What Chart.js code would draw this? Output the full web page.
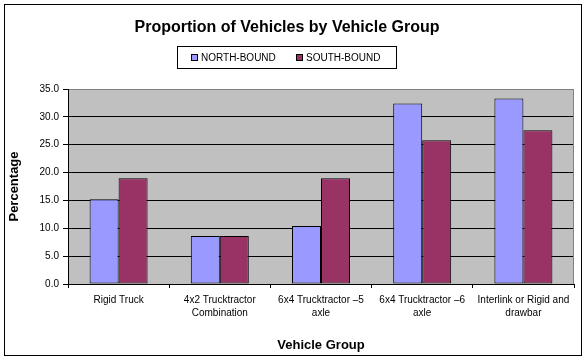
<!DOCTYPE html>
<html>
<head>
<meta charset="utf-8">
<script src="https://cdn.jsdelivr.net/npm/chart.js@4/dist/chart.umd.min.js"></script>
<style>
  html, body { margin: 0; padding: 0; background: #fff; }
  #wrap { width: 587px; height: 361px; }
</style>
</head>
<body>
<div id="wrap"><canvas id="c" width="587" height="361"></canvas></div>
<script>
const categories = [
  ["Rigid Truck"],
  ["4x2 Trucktractor", "Combination"],
  ["6x4 Trucktractor \u20135", "axle"],
  ["6x4 Trucktractor \u20136", "axle"],
  ["Interlink or Rigid and", "drawbar"]
];
const seriesNames = ["NORTH-BOUND", "SOUTH-BOUND"];
const northBound = [15.2, 8.6, 10.4, 32.4, 33.3];
const southBound = [19.0, 8.6, 19.0, 25.8, 27.6];
const yTicks = [0, 5, 10, 15, 20, 25, 30, 35];

const FONT = "'Liberation Sans', Arial, sans-serif";
Chart.defaults.font.family = FONT;
Chart.defaults.color = '#000';

const framePlugin = {
  id: 'frame',
  beforeDraw(chart) {
    const ctx = chart.ctx, a = chart.chartArea;
    ctx.save();
    ctx.fillStyle = '#fff';
    ctx.fillRect(0, 0, chart.width, chart.height);
    ctx.strokeStyle = '#000';
    ctx.lineWidth = 1;
    ctx.strokeRect(4.5, 4.5, 577, 351);
    ctx.fillStyle = '#C0C0C0';
    ctx.fillRect(a.left, a.top, a.right - a.left, a.bottom - a.top);
    ctx.restore();
  },
  beforeDatasetsDraw(chart) {
    const ctx = chart.ctx, a = chart.chartArea;
    ctx.save();
    ctx.strokeStyle = '#808080';
    ctx.lineWidth = 1;
    ctx.beginPath();
    ctx.moveTo(a.right - 0.5, a.top);
    ctx.lineTo(a.right - 0.5, a.bottom);
    ctx.stroke();
    ctx.restore();
  },
  afterDraw(chart) {
    const ctx = chart.ctx;
    ctx.save();
    ctx.strokeStyle = '#000';
    ctx.lineWidth = 1;
    ctx.strokeRect(177.5, 46.5, 219, 22);
    const xs = [191, 296];
    ctx.font = '10px ' + FONT;
    ctx.textBaseline = 'middle';
    ctx.textAlign = 'left';
    chart.data.datasets.forEach((ds, i) => {
      ctx.fillStyle = ds.backgroundColor;
      ctx.fillRect(xs[i], 54, 7, 7);
      ctx.strokeStyle = '#000';
      ctx.strokeRect(xs[i] + 0.5, 54.5, 6, 6);
      ctx.fillStyle = '#000';
      ctx.fillText(ds.label, xs[i] + 10, 58);
    });
    ctx.restore();
  }
};

new Chart(document.getElementById('c'), {
  type: 'bar',
  data: {
    labels: categories,
    datasets: [
      { label: seriesNames[0], data: northBound, backgroundColor: '#9999FF',
        borderColor: '#000', borderWidth: 1, borderSkipped: false },
      { label: seriesNames[1], data: southBound, backgroundColor: '#993366',
        borderColor: '#000', borderWidth: 1, borderSkipped: false }
    ]
  },
  options: {
    responsive: false,
    animation: false,
    layout: { padding: { left: 0, right: 13, top: 0, bottom: 0 } },
    datasets: { bar: { categoryPercentage: 0.573, barPercentage: 1.0 } },
    plugins: {
      legend: { display: false },
      tooltip: { enabled: false },
      title: {
        display: true,
        text: 'Proportion of Vehicles by Vehicle Group',
        font: { size: 16, weight: 'bold', family: FONT },
        color: '#000',
        padding: { top: 18, bottom: 51.8 }
      }
    },
    scales: {
      x: {
        offset: true,
        grid: { display: true, drawOnChartArea: false, offset: true, tickLength: 4, tickColor: '#000', color: '#000' },
        border: { display: true, color: '#000', width: 1 },
        ticks: { font: { size: 10, lineHeight: 1.3 }, color: '#000', padding: 6, maxRotation: 0, autoSkip: false },
        title: { display: true, text: 'Vehicle Group', font: { size: 13, weight: 'bold' }, color: '#000', padding: { top: 0, bottom: 8 } },
        afterFit(scale) { scale.height = 77; }
      },
      y: {
        min: 0, max: 35,
        afterBuildTicks(scale) { scale.ticks = yTicks.map(v => ({ value: v })); },
        grid: {
          color: (c) => (c.tick && c.tick.value === 35) ? '#808080' : '#000',
          tickColor: '#000', tickLength: 5, lineWidth: 1
        },
        border: { display: true, color: '#000', width: 1 },
        ticks: { font: { size: 10 }, color: '#000', padding: 4, callback: (v) => Number(v).toFixed(1) },
        title: { display: true, text: 'Percentage', font: { size: 13, weight: 'bold' }, color: '#000', padding: { top: 7, bottom: 0 } },
        afterFit(scale) { scale.width = 68; }
      }
    }
  },
  plugins: [framePlugin]
});
</script>
</body>
</html>
